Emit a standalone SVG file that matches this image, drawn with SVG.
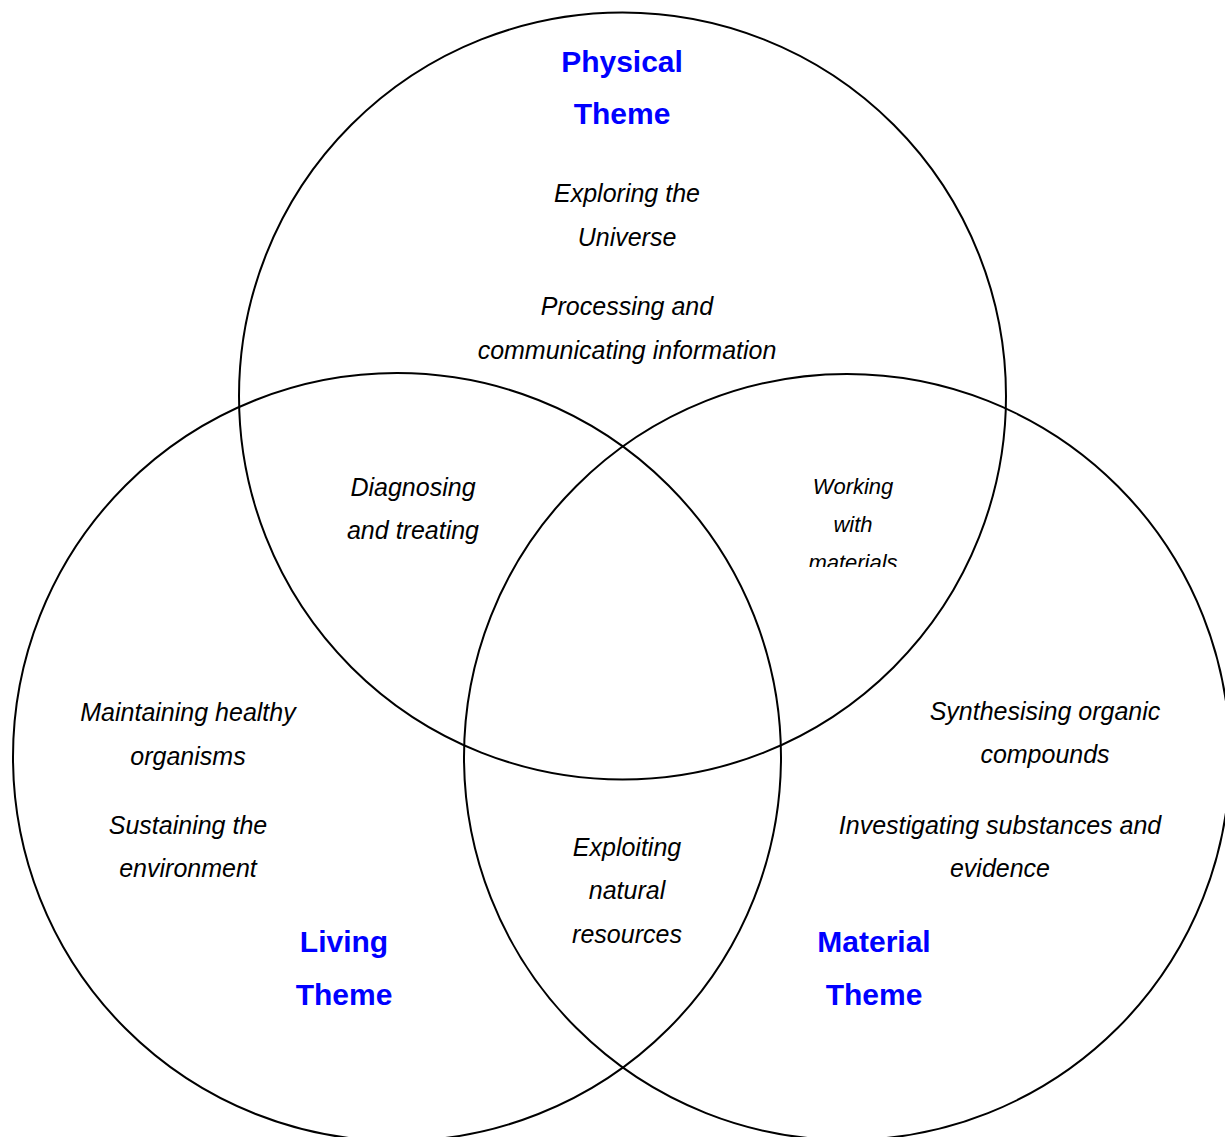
<svg xmlns="http://www.w3.org/2000/svg" width="1225" height="1137" viewBox="0 0 1225 1137">
<style>
.c{fill:none;stroke:#000;stroke-width:2}
.t{font-family:"Liberation Sans",Arial,sans-serif;font-size:30px;font-weight:bold;fill:#0000ff;text-anchor:middle}
.i{font-family:"Liberation Sans",Arial,sans-serif;font-size:25px;font-style:italic;fill:#000;text-anchor:middle}
.s{font-family:"Liberation Sans",Arial,sans-serif;font-size:22px;font-style:italic;fill:#000;text-anchor:middle}
</style>
<defs>
<clipPath id="clipW"><rect x="780" y="460" width="160" height="107"/></clipPath>
</defs>
<rect width="1225" height="1137" fill="#fff"/>
<g id="connectors"></g>
<g id="physical">
<circle class="c" cx="622.5" cy="396" r="383.5"/>
<text class="t" x="622" y="72">Physical</text>
<text class="t" x="622" y="124">Theme</text>
<text class="i" x="627" y="202">Exploring the</text>
<text class="i" x="627" y="246">Universe</text>
<text class="i" x="627" y="315">Processing and</text>
<text class="i" x="627" y="359">communicating information</text>
</g>
<g id="living">
<circle class="c" cx="397" cy="757" r="384"/>
<text class="i" x="188" y="721">Maintaining healthy</text>
<text class="i" x="188" y="765">organisms</text>
<text class="i" x="188" y="834">Sustaining the</text>
<text class="i" x="188" y="877">environment</text>
<text class="t" x="344" y="952">Living</text>
<text class="t" x="344" y="1005">Theme</text>
</g>
<g id="material">
<circle class="c" cx="847" cy="757" r="383"/>
<text class="i" x="1045" y="720">Synthesising organic</text>
<text class="i" x="1045" y="763">compounds</text>
<text class="i" x="1000" y="834">Investigating substances and</text>
<text class="i" x="1000" y="877">evidence</text>
<text class="t" x="874" y="952">Material</text>
<text class="t" x="874" y="1005">Theme</text>
</g>
<g id="diagnosing">
<text class="i" x="413" y="496">Diagnosing</text>
<text class="i" x="413" y="539">and treating</text>
</g>
<g id="working" clip-path="url(#clipW)">
<text class="s" x="853" y="494">Working</text>
<text class="s" x="853" y="532">with</text>
<text class="s" x="853" y="570">materials</text>
</g>
<g id="exploiting">
<text class="i" x="627" y="856">Exploiting</text>
<text class="i" x="627" y="899">natural</text>
<text class="i" x="627" y="943">resources</text>
</g>
</svg>
